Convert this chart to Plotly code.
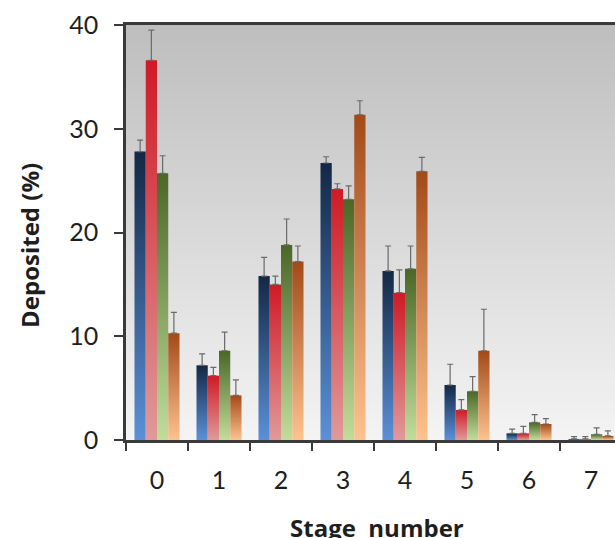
import zlib, struct, base64
import plotly.graph_objects as go

# ---------------- data ----------------
stages = ["0", "1", "2", "3", "4", "5", "6", "7"]
series_names = ["Series A", "Series B", "Series C", "Series D"]
blue_vals = [27.8, 7.2, 15.8, 26.7, 16.3, 5.3, 0.64, 0.10]
blue_err = [1.1, 1.1, 1.8, 0.6, 2.4, 2.0, 0.40, 0.22]
red_vals = [36.6, 6.2, 15.0, 24.2, 14.2, 2.9, 0.64, 0.10]
red_err = [2.9, 0.8, 0.8, 0.5, 2.2, 1.0, 0.68, 0.22]
green_vals = [25.7, 8.6, 18.8, 23.2, 16.5, 4.7, 1.70, 0.55]
green_err = [1.7, 1.8, 2.5, 1.3, 2.2, 1.4, 0.74, 0.61]
orange_vals = [10.3, 4.3, 17.2, 31.35, 25.9, 8.6, 1.54, 0.39]
orange_err = [2.0, 1.5, 1.5, 1.35, 1.35, 4.0, 0.52, 0.48]
y_ticks = [0, 10, 20, 30, 40]

values = [blue_vals, red_vals, green_vals, orange_vals]
errors = [blue_err, red_err, green_err, orange_err]
# (light bottom, dark top)
gradients = [("#5b90d8", "#132845"),
             ("#e09a9a", "#cf1a26"),
             ("#c2dd9b", "#4a6728"),
             ("#fdc38f", "#a24a18")]

GROUP = 0.726
BW = GROUP / 4

L, T, W, H = 126, 25, 615, 538
ZERO_Y = 440
PLOT_W = W - L
PLOT_H = ZERO_Y - T


def png_gradient(top, bottom, h=256):
    raw = b""
    for r in range(h):
        t = r / (h - 1)
        c = [round(top[j] + (bottom[j] - top[j]) * t) for j in range(3)]
        raw += b"\x00" + bytes(c)

    def chunk(tag, data):
        return (struct.pack(">I", len(data)) + tag + data
                + struct.pack(">I", zlib.crc32(tag + data) & 0xffffffff))

    png = (b"\x89PNG\r\n\x1a\n"
           + chunk(b"IHDR", struct.pack(">IIBBBBB", 1, h, 8, 2, 0, 0, 0))
           + chunk(b"IDAT", zlib.compress(raw))
           + chunk(b"IEND", b""))
    return "data:image/png;base64," + base64.b64encode(png).decode()


fig = go.Figure()
for k, (vals, errs, (light, dark)) in enumerate(zip(values, errors, gradients)):
    centers = []
    for i, v in enumerate(vals):
        left = i - GROUP / 2 + k * BW
        right = left + BW
        centers.append(left + BW / 2)
        fig.add_trace(go.Scatter(
            x=[left, left, right, right, left],
            y=[0, v, v, 0, 0],
            mode="lines", line=dict(width=0),
            fill="toself",
            fillgradient=dict(type="vertical",
                              colorscale=[[0, light], [1, dark]]),
            hoverinfo="skip", showlegend=False,
        ))
    fig.add_trace(go.Scatter(
        x=centers, y=vals, mode="markers",
        marker=dict(size=1, color="rgba(0,0,0,0)"),
        name=series_names[k], showlegend=False,
        error_y=dict(type="data", array=errs, arrayminus=[0] * len(errs),
                     symmetric=False, color="#6a6a6a", thickness=1.2, width=3),
    ))

fig.update_layout(
    width=W, height=H,
    margin=dict(l=L, r=0, t=T, b=H - ZERO_Y, pad=0),
    paper_bgcolor="white",
    plot_bgcolor="rgba(0,0,0,0)",
    font=dict(family="Lato", color="#1e1e1e"),
    showlegend=False,
    images=[dict(source=png_gradient((190, 190, 190), (244, 244, 244)),
                 xref="paper", yref="paper", x=0, y=1, sizex=1, sizey=1,
                 xanchor="left", yanchor="top", sizing="stretch",
                 layer="below")],
    xaxis=dict(
        range=[-0.5, -0.5 + PLOT_W / 62],
        tickvals=list(range(len(stages))), ticktext=stages,
        ticks="outside", ticklen=16, tickcolor="rgba(0,0,0,0)",
        showgrid=False, zeroline=False,
        showline=True, mirror=True, linecolor="#3a3a3a", linewidth=2.5,
        tickfont=dict(size=25),
        minor=dict(tickvals=[i - 0.5 for i in range(len(stages) + 1)],
                   ticks="outside", ticklen=8, tickwidth=1.5,
                   tickcolor="#3a3a3a", showgrid=False),
    ),
    yaxis=dict(
        range=[0, 40], tickvals=y_ticks,
        ticks="outside", ticklen=9, tickwidth=1.5, tickcolor="#3a3a3a",
        showgrid=False, zeroline=False,
        showline=True, linecolor="#3a3a3a", linewidth=2.5,
        tickfont=dict(size=25), ticklabelstandoff=11,
    ),
    annotations=[
        dict(text="<b>Deposited (%)</b>", xref="paper", yref="paper",
             x=(29 - L) / PLOT_W, y=(ZERO_Y - 246) / PLOT_H, textangle=-90,
             showarrow=False, font=dict(size=24, family="Open Sans"),
             xanchor="center", yanchor="middle"),
        dict(text="<b>Stage\u00a0 number</b>", xref="paper", yref="paper",
             x=(376.7 - L) / PLOT_W, y=(ZERO_Y - 527) / PLOT_H, showarrow=False,
             font=dict(size=24, family="Open Sans"),
             xanchor="center", yanchor="middle"),
    ],
)

fig.write_html(
    "out.html",
    config={"displayModeBar": False},
    post_script="document.body.style.margin='0';"
                "document.documentElement.style.overflow='hidden';"
                "document.body.style.overflow='hidden';",
)
